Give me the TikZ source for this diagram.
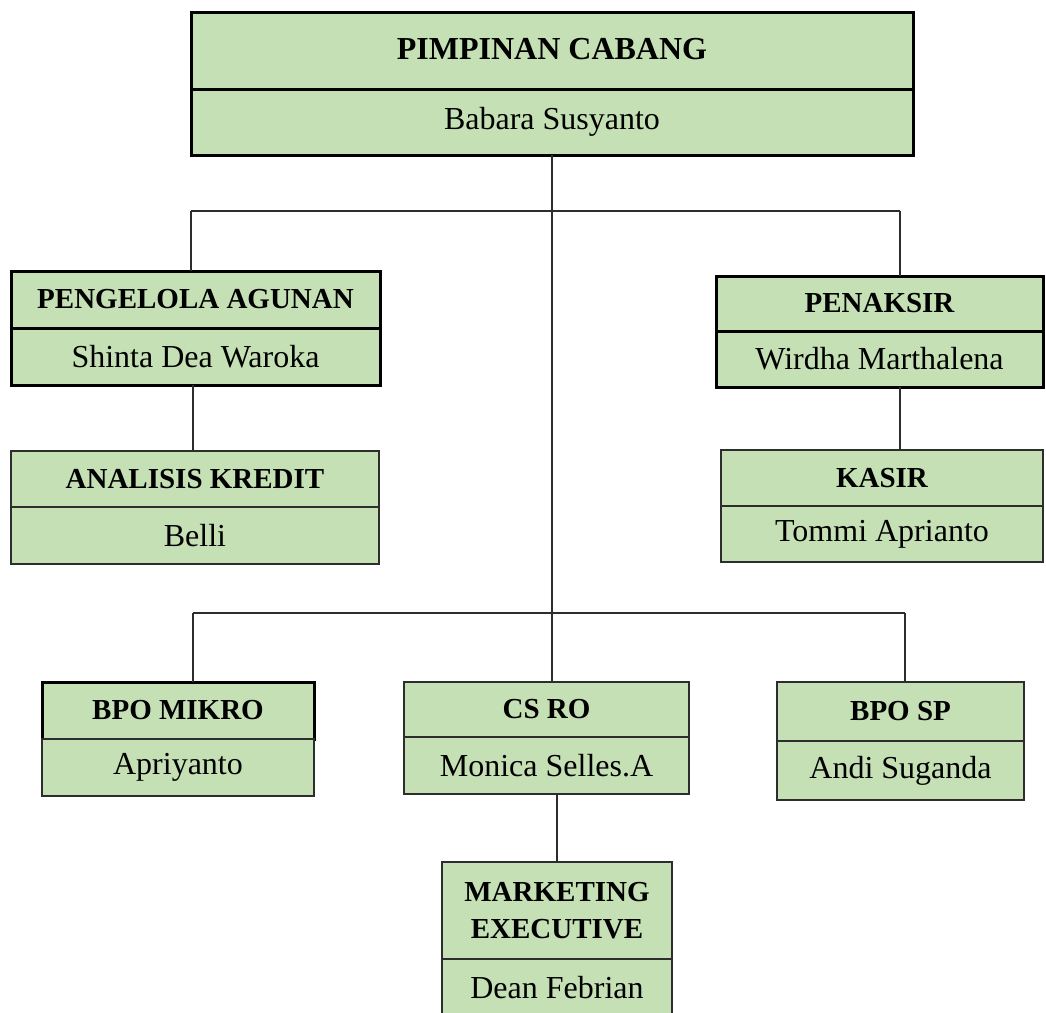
\documentclass[tikz,border=0pt]{standalone}
\usepackage{fontspec}
\setmainfont{Liberation Serif}
\usetikzlibrary{positioning}
\definecolor{hijau}{RGB}{197,224,180}
\definecolor{garis}{RGB}{45,45,45}

\begin{document}
\begin{tikzpicture}[x=1pt, y=-1pt]
  \tikzset{
    kotak/.style={draw=garis, fill=hijau, line width=1.4pt, rectangle, inner sep=2pt, outer sep=0pt, align=center},
    jabatan/.style={kotak, font={\fontsize{29}{37}\selectfont\bfseries}},
    nama/.style={kotak, font={\fontsize{32}{36}\selectfont}},
    tebal/.style={draw=black, line width=3pt},
    hubung/.style={draw=garis, line width=1.3pt},
  }
  \useasboundingbox (0,0) rectangle (1046,1012);

  % pimpinan cabang
  \node[jabatan, tebal, minimum width=722, minimum height=77, font={\fontsize{32}{36}\selectfont\bfseries}] (pimpinan) at (552,50.5) {\raisebox{4pt}{PIMPINAN CABANG}};
  \node[nama, tebal, minimum width=722, minimum height=66, below=0pt of pimpinan] (babara) {\raisebox{-3pt}{Babara Susyanto}};

  % left column
  \node[jabatan, tebal, minimum width=369, minimum height=57] (pengelola) at (195.5,299.5) {PENGELOLA AGUNAN};
  \node[nama, tebal, minimum width=369, minimum height=57, below=0pt of pengelola] (shinta) {Shinta Dea Waroka};
  \node[jabatan, minimum width=368, minimum height=56] (analisis) at (195,479) {ANALISIS KREDIT};
  \node[nama, minimum width=368, minimum height=57, below=0pt of analisis] (belli) {Belli};

  % right column
  \node[jabatan, tebal, minimum width=327, minimum height=55] (penaksir) at (879.5,303.5) {PENAKSIR};
  \node[nama, tebal, minimum width=327, minimum height=56, below=0pt of penaksir] (wirdha) {Wirdha Marthalena};
  \node[jabatan, minimum width=322, minimum height=56] (kasir) at (882,478) {KASIR};
  \node[nama, minimum width=322, minimum height=56, below=0pt of kasir] (tommi) {Tommi Aprianto};

  % bottom row
  \node[jabatan, tebal, minimum width=272, minimum height=57] (bpomikro) at (178,710.5) {BPO MIKRO};
  \node[nama, minimum width=272, minimum height=57, below=0pt of bpomikro] (apriyanto) {Apriyanto};
  \node[jabatan, minimum width=285, minimum height=55] (csro) at (546.5,709.5) {CS RO};
  \node[nama, minimum width=285, minimum height=57, below=0pt of csro] (monica) {Monica Selles.A};
  \node[jabatan, minimum width=247, minimum height=59] (bposp) at (900.5,711.5) {BPO SP};
  \node[nama, minimum width=247, minimum height=59, below=0pt of bposp] (andi) {Andi Suganda};
  \node[jabatan, minimum width=230, minimum height=97] (marketing) at (557,910.5) {MARKETING\\EXECUTIVE};
  \node[nama, minimum width=230, minimum height=57, below=0pt of marketing] (dean) {Dean Febrian};

  % connectors
  \coordinate (busA-kiri) at (191,211);
  \coordinate (busA-kanan) at (900,211);
  \coordinate (busB-kiri) at (193,613);
  \coordinate (busB-kanan) at (905,613);

  \draw[hubung] (babara.south) -- (babara.south |- csro.north);
  \draw[hubung] (busA-kiri) -- (busA-kanan);
  \draw[hubung] (busA-kiri) -- (busA-kiri |- pengelola.north);
  \draw[hubung] (busA-kanan) -- (busA-kanan |- penaksir.north);
  \draw[hubung] (busB-kiri |- shinta.south) -- (busB-kiri |- analisis.north);
  \draw[hubung] (busA-kanan |- wirdha.south) -- (busA-kanan |- kasir.north);
  \draw[hubung] (busB-kiri) -- (busB-kanan);
  \draw[hubung] (busB-kiri) -- (busB-kiri |- bpomikro.north);
  \draw[hubung] (busB-kanan) -- (busB-kanan |- bposp.north);
  \draw[hubung] (monica.south -| marketing.north) -- (marketing.north);
\end{tikzpicture}
\end{document}
